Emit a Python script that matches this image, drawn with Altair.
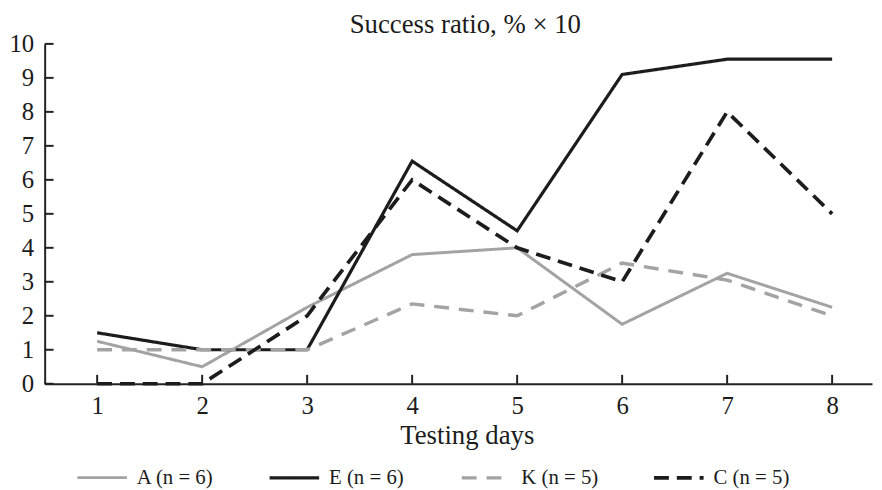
import altair as alt
import pandas as pd

days = [1, 2, 3, 4, 5, 6, 7, 8]
series_A = [1.25, 0.5, 2.25, 3.8, 4.0, 1.75, 3.25, 2.25]
series_E = [1.5, 1.0, 1.0, 6.55, 4.5, 9.1, 9.55, 9.55]
series_K = [1.0, 1.0, 1.0, 2.35, 2.0, 3.55, 3.05, 2.0]
series_C = [0.0, 0.0, 2.0, 6.0, 4.0, 3.0, 8.0, 5.0]
labels = ["A (n = 6)", "E (n = 6)", "K (n = 5)", "C (n = 5)"]
y_ticks = [0, 1, 2, 3, 4, 5, 6, 7, 8, 9, 10]

GRAY = "#a3a3a3"
BLACK = "#1c1c1c"
FONT = "Liberation Serif"

rows = []
for lab, vals in zip(labels, [series_A, series_E, series_K, series_C]):
    for d, v in zip(days, vals):
        rows.append({"day": d, "value": v, "group": lab})
df = pd.DataFrame(rows)

W, H = 835, 343

x_scale = alt.Scale(domain=[0.5, 8.38], nice=False, zero=False)
y_scale = alt.Scale(domain=[0, 10], nice=False)
x_axis = alt.Axis(values=days, title="Testing days", ticks=False,
                  labelPadding=10, titlePadding=4, titleX=426)
y_axis = alt.Axis(values=y_ticks, title=None, ticks=False, labelPadding=11)

leg = alt.Legend(
    title=None, orient="none", legendX=31, legendY=411, direction="horizontal",
    columns=4, gridAlign="all", columnPadding=48, symbolType="stroke",
    symbolSize=2500, labelFont=FONT, labelFontSize=21, labelColor=BLACK,
    labelOffset=8,
)

lines = alt.Chart(df).mark_line(strokeCap="butt", strokeJoin="miter").encode(
    x=alt.X("day:Q", scale=x_scale, axis=x_axis),
    y=alt.Y("value:Q", scale=y_scale, axis=y_axis),
    color=alt.Color("group:N", sort=labels,
                    scale=alt.Scale(domain=labels, range=[GRAY, BLACK, GRAY, BLACK]),
                    legend=leg),
    strokeDash=alt.StrokeDash("group:N", sort=labels,
                              scale=alt.Scale(domain=labels,
                                              range=[[1, 0], [1, 0], [15, 10], [15, 8]]),
                              legend=leg),
    strokeWidth=alt.StrokeWidth("group:N", sort=labels,
                                scale=alt.Scale(domain=labels, range=[3.0, 3.7, 3.3, 3.9]),
                                legend=leg),
    order=alt.Order("day:Q"),
)

yt = alt.Chart(pd.DataFrame({"yt": y_ticks})).mark_rule(
    strokeWidth=2, color="#222"
).encode(
    y=alt.Y("yt:Q", scale=y_scale, axis=y_axis),
    x=alt.value(0),
    x2=alt.value(9),
)

xt = alt.Chart(pd.DataFrame({"xt": days})).mark_rule(
    strokeWidth=2, color="#222"
).encode(
    x=alt.X("xt:Q", scale=x_scale, axis=x_axis),
    y=alt.value(H),
    y2=alt.value(H - 9),
)

chart = alt.layer(lines, yt, xt).properties(
    width=W, height=H,
    title=alt.TitleParams("Success ratio, % × 10", font=FONT, fontSize=27,
                          fontWeight="normal", color=BLACK, anchor="middle",
                          frame="group", offset=4, dx=7, dy=11),
    autosize=alt.AutoSizeParams(type="none"),
    padding={"left": 37, "top": 34, "right": 2, "bottom": 105},
).configure_view(stroke=None).configure_axis(
    domainColor="#222", domainWidth=2, grid=False,
    labelFont=FONT, labelFontSize=25, labelColor=BLACK,
    titleFont=FONT, titleFontSize=27, titleFontWeight="normal", titleColor=BLACK,
)

chart.save("out.html", embed_options={"renderer": "svg", "actions": False})
